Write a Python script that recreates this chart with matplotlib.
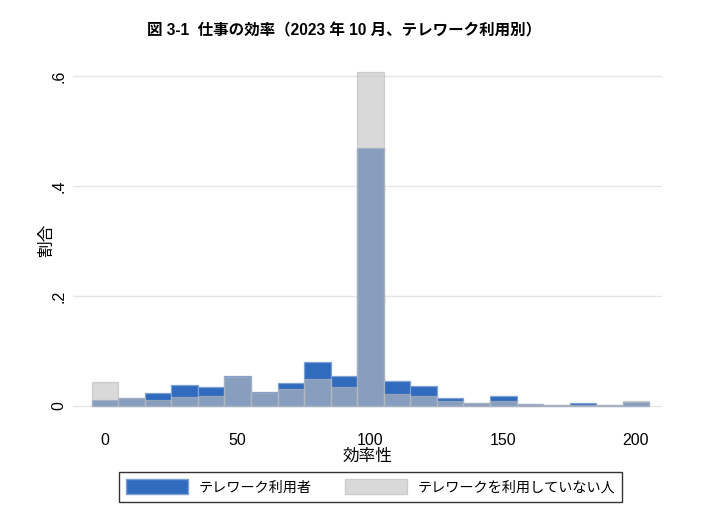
import numpy as np
import matplotlib
matplotlib.use("Agg")
import matplotlib.pyplot as plt
from matplotlib.patches import Patch

plt.rcParams['font.family'] = ['Liberation Sans', 'Noto Sans CJK JP', 'DejaVu Sans']

# ---- data ----
bin_centers = [0, 10, 20, 30, 40, 50, 60, 70, 80, 90, 100,
               110, 120, 130, 140, 150, 160, 170, 180, 190, 200]
telework_users = [0.011, 0.015, 0.024, 0.038, 0.034, 0.055, 0.026, 0.041, 0.080, 0.055, 0.470,
                  0.046, 0.036, 0.015, 0.006, 0.019, 0.004, 0.001, 0.005, 0.0015, 0.008]
non_users = [0.043, 0.014, 0.011, 0.017, 0.019, 0.052, 0.024, 0.031, 0.050, 0.035, 0.607,
             0.021, 0.018, 0.009, 0.005, 0.0085, 0.003, 0.001, 0.0025, 0.0015, 0.009]
x_ticks = [0, 50, 100, 150, 200]
y_ticks = [0, 0.2, 0.4, 0.6]
y_ticklabels = ["0", ".2", ".4", ".6"]
title = "図 3-1  仕事の効率（2023 年 10 月、テレワーク利用別）"
x_label = "効率性"
y_label = "割合"
legend_labels = ["テレワーク利用者", "テレワークを利用していない人"]

BLUE = "#316bbe"
GRAY = "#c1c1c1"
GRAY_LEG = "#d9d9d9"

fig = plt.figure(figsize=(7.06, 5.28), dpi=100)
W, H = 706, 528
L, R, T, B = 73, 662, 62, 418
ax = fig.add_axes([L / W, 1 - B / H, (R - L) / W, (B - T) / H])

ax.bar(bin_centers, telework_users, width=10, color=BLUE, edgecolor="#7fa0d2",
       linewidth=0.9, zorder=2)
ax.bar(bin_centers, non_users, width=10, color=GRAY, alpha=0.6, edgecolor="#b8b8b8",
       linewidth=0.9, zorder=3)

ax.set_xlim(-12.05, 209.8)
ax.set_ylim(-0.0218, 0.6255)
ax.set_xticks(x_ticks)
ax.set_yticks(y_ticks)
ax.set_yticklabels(y_ticklabels, rotation=90, va="center")
ax.tick_params(axis="both", length=0, labelsize=11.5)
ax.tick_params(axis="x", pad=11)
ax.tick_params(axis="y", pad=5)
ax.grid(axis="y", color="#e6e6e6", linewidth=1.0, zorder=0)
ax.set_axisbelow(True)
for s in ax.spines.values():
    s.set_visible(False)

ax.set_xlabel(x_label, fontsize=12, labelpad=0)
ax.set_ylabel(y_label, fontsize=12, labelpad=-2)

fig.text(344 / W, 1 - 31 / H, title, ha="center", va="center",
         fontsize=11.2, fontweight="bold")

handles = [Patch(facecolor=BLUE, edgecolor="#7fa0d2"),
           Patch(facecolor=GRAY_LEG, edgecolor="#cccccc")]
leg = fig.legend(handles, legend_labels, loc="center",
                 bbox_to_anchor=(370.5 / W, 1 - 487 / H), ncol=2, fontsize=10.2,
                 frameon=True, fancybox=False, edgecolor="black",
                 handlelength=4.4, handleheight=1.2, handletextpad=0.7,
                 columnspacing=2.4, borderpad=0.5)
leg.get_frame().set_linewidth(1.0)

fig.savefig("out.png", dpi=100)
